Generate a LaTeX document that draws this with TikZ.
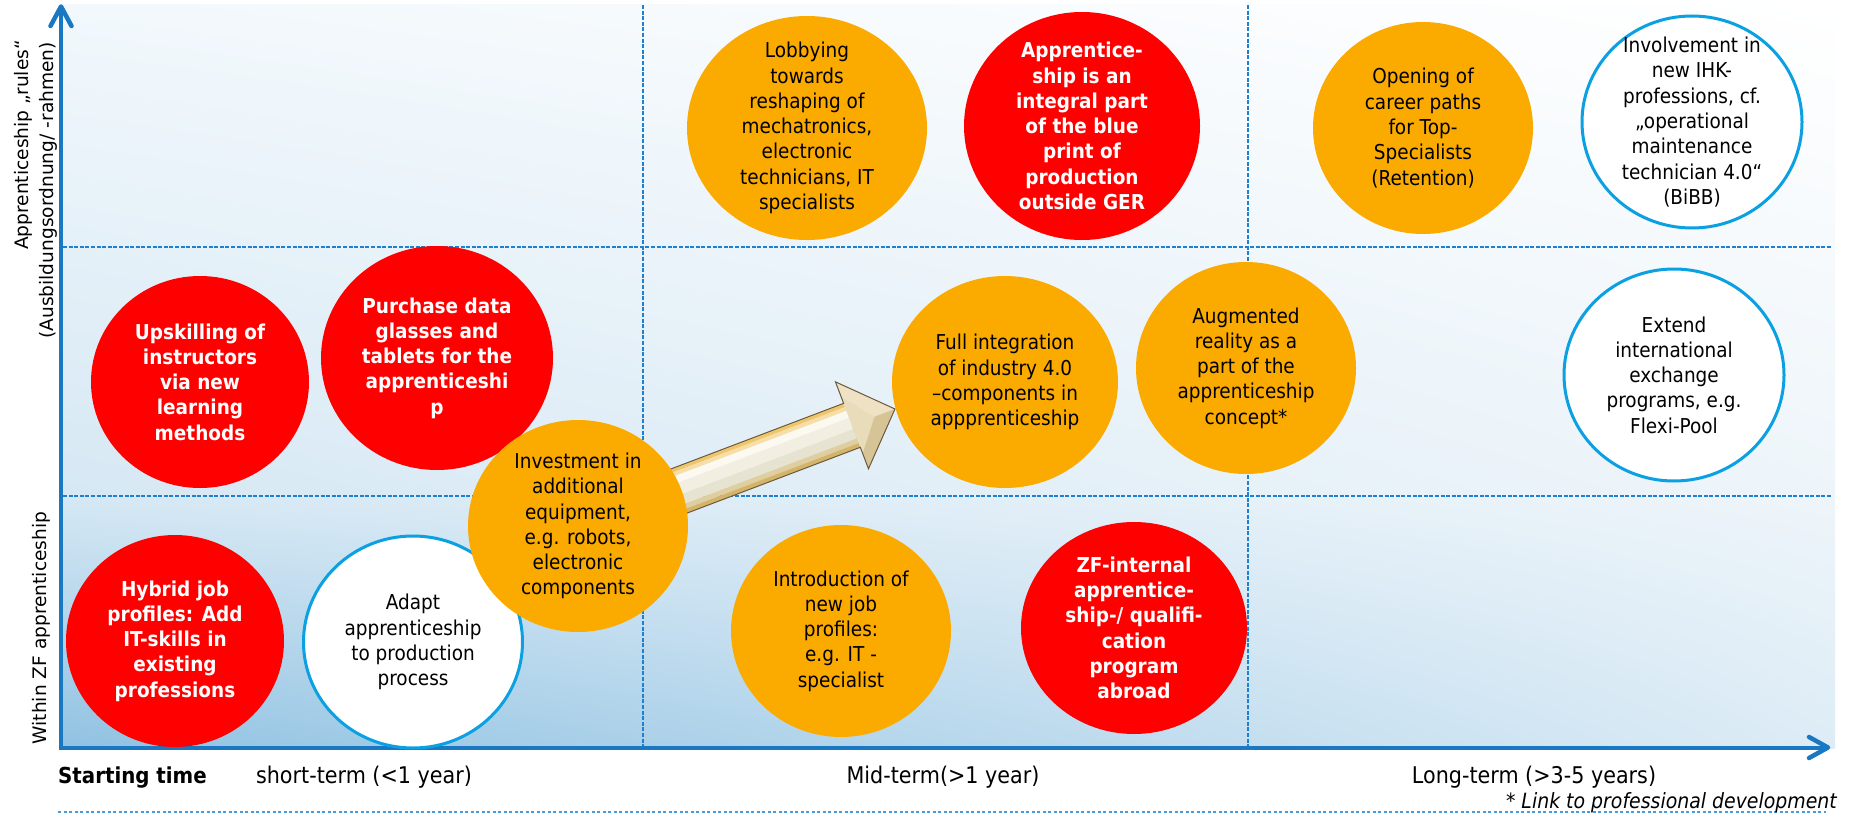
\documentclass[tikz,border=0pt]{standalone}
\usepackage{fontspec}
\usetikzlibrary{shapes.geometric,shadings}
\newfontfamily\cf[FakeStretch=0.9]{DejaVu Sans}
\newfontfamily\vf{DejaVu Sans}
\definecolor{zfred}{HTML}{FF0000}
\definecolor{zforange}{HTML}{FBAA00}
\definecolor{zfblue}{HTML}{0AA0E2}
\definecolor{axblue}{HTML}{1A78C2}
\definecolor{dashblue}{HTML}{1E80D0}
\definecolor{bgA}{HTML}{F2F8FC}
\definecolor{bgB}{HTML}{D6E8F4}
\definecolor{bgC}{HTML}{EEF5FA}
\definecolor{bgD}{HTML}{90C2E2}
\definecolor{bgE}{HTML}{DDECF6}
\definecolor{arEdge}{HTML}{6B5A3A}
\begin{document}
\begin{tikzpicture}[x=1pt,y=-1pt,
  redb/.style={ellipse, fill=zfred, inner sep=0pt},
  orb/.style={ellipse, fill=zforange, inner sep=0pt},
  whb/.style={ellipse, fill=white, draw=zfblue, line width=3pt, inner sep=0pt},
  wtxt/.style={font={\cf\bfseries\fontsize{20.5}{25.3}\selectfont}, text=white, align=center, inner sep=0pt},
  btxt/.style={font={\cf\fontsize{20.5}{25.3}\selectfont}, text=black, align=center, inner sep=0pt},
  ylab/.style={font={\vf\fontsize{18.6}{22}\selectfont}, inner sep=0pt, rotate=90},
  blab/.style={font={\cf\fontsize{23}{26}\selectfont}, inner sep=0pt, anchor=base},
  grid/.style={dashblue, line width=1.3pt, dash pattern=on 4pt off 1.6pt},
  axis/.style={axblue, line width=4.5pt}
]
\useasboundingbox (0,0) rectangle (1852,813);
% background
\shade[upper left=bgA, upper right=white, lower left=bgB, lower right=bgC] (63,5) rectangle (1835,496);
\shade[upper left=bgB, upper right=bgC, lower left=bgD, lower right=bgE] (63,496) rectangle (1835,748);
% grid lines
\draw[grid] (643,5) -- (643,748);
\draw[grid] (1248,5) -- (1248,748);
\draw[grid] (63,247) -- (1832,247);
\draw[grid] (63,496) -- (1832,496);
% bottom dotted line
\draw[dashblue!80, line width=1.5pt, dash pattern=on 3pt off 2.5pt] (58,812) -- (1826,812);
% axes
\draw[axis, line join=miter] (61,7) -- (61,748) -- (1827,748);
\draw[axis, line cap=round, line join=round] (50.5,26) -- (61,6.5) -- (71.5,26);
\draw[axis, line cap=round, line join=round] (1809,737) -- (1828,747.5) -- (1809,758);
% block arrow (local x along the arrow, local y towards its lower side)
\begin{scope}[shift={(579,529)}, rotate=20.8]
  \fill[fill={rgb,255:red,240;green,198;blue,108}] (0,-23.5) rectangle (292,-19.5);
  \fill[fill={rgb,255:red,246;green,222;blue,166}] (0,-19.5) rectangle (292,-15.5);
  \fill[fill={rgb,255:red,251;green,249;blue,240}] (0,-15.5) rectangle (292,-8);
  \fill[fill={rgb,255:red,242;green,239;blue,226}] (0,-8) rectangle (292,4);
  \fill[fill={rgb,255:red,230;green,227;blue,209}] (0,4) rectangle (292,14);
  \fill[fill={rgb,255:red,222;green,206;blue,160}] (0,14) rectangle (292,19);
  \fill[fill={rgb,255:red,212;green,180;blue,106}] (0,19) rectangle (292,23.5);
  \fill[fill={rgb,255:red,239;green,226;blue,196}] (292,-46.5) -- (338,0) -- (292,0) -- cycle;
  \fill[fill={rgb,255:red,214;green,196;blue,150}] (292,46.5) -- (338,0) -- (292,0) -- cycle;
  \fill[fill={rgb,255:red,232;green,220;blue,186}] (292,-30) -- (316,0) -- (292,30) -- cycle;
  \draw[arEdge, line width=1pt, line join=miter] (0,-23.5) -- (292,-23.5) -- (292,-46.5) -- (338,0) -- (292,46.5) -- (292,23.5) -- (0,23.5);
\end{scope}
% bubbles
\node[redb, minimum width=218pt, minimum height=212pt] (upsk) at (200,382) {};
\node[redb, minimum width=232pt, minimum height=224pt] (purch) at (437,358) {};
\node[redb, minimum width=218pt, minimum height=212pt] (hybrid) at (175,641) {};
\node[whb, minimum width=219pt, minimum height=212pt] (adapt) at (413,642) {};
\node[orb, minimum width=220pt, minimum height=212pt] (invest) at (578,526) {};
\node[orb, minimum width=240pt, minimum height=224pt] (lobby) at (807,128) {};
\node[redb, minimum width=236pt, minimum height=228pt] (appr) at (1082,126) {};
\node[orb, minimum width=226pt, minimum height=212pt] (full) at (1005,382) {};
\node[orb, minimum width=220pt, minimum height=212pt] (augm) at (1246,368) {};
\node[orb, minimum width=220pt, minimum height=212pt] (intro) at (841,631) {};
\node[redb, minimum width=226pt, minimum height=212pt] (zfint) at (1134,628) {};
\node[orb, minimum width=220pt, minimum height=212pt] (open) at (1423,128) {};
\node[whb, minimum width=220pt, minimum height=212pt] (invol) at (1692,122) {};
\node[whb, minimum width=220pt, minimum height=212pt] (extend) at (1674,375) {};
% bubble texts
\node[wtxt] (upskT) at (upsk) {Upskilling of\\instructors\\via new\\learning\\methods};
\node[wtxt] (purchT) at (purch) {Purchase data\\glasses and\\tablets for the\\apprenticeshi\\p};
\node[wtxt] (hybridT) at (hybrid) {Hybrid job\\profiles: Add\\IT-skills in\\existing\\professions};
\node[btxt] (adaptT) at (adapt) {Adapt\\apprenticeship\\to production\\process};
\node[btxt] (investT) at (invest) {Investment in\\additional\\equipment,\\e.g. robots,\\electronic\\components};
\node[btxt] (lobbyT) at (lobby) {Lobbying\\towards\\reshaping of\\mechatronics,\\electronic\\technicians, IT\\specialists};
\node[wtxt] (apprT) at (appr) {Apprentice-\\ship is an\\integral part\\of the blue\\print of\\production\\outside GER};
\node[btxt] (fullT) at (full) {Full integration\\of industry 4.0\\–components in\\appprenticeship};
\node[btxt] (augmT) at (augm) {Augmented\\reality as a\\part of the\\apprenticeship\\concept*};
\node[btxt] (introT) at (intro) {Introduction of\\new job\\profiles:\\e.g. IT -\\specialist};
\node[wtxt] (zfintT) at (zfint) {ZF-internal\\apprentice-\\ship-/ qualifi-\\cation\\program\\abroad};
\node[btxt] (openT) at (open) {Opening of\\career paths\\for Top-\\Specialists\\(Retention)};
\node[btxt] (involT) at (invol) {Involvement in\\new IHK-\\professions, cf.\\„operational\\maintenance\\technician 4.0“\\(BiBB)};
\node[btxt] (extendT) at (extend) {Extend\\international\\exchange\\programs, e.g.\\Flexi-Pool};
% axis labels
\node[ylab, anchor=base east] (yl1) at (28.5,40) {Apprenticeship „rules“};
\node[ylab, anchor=base east] (yl2) at (53,42) {(Ausbildungsordnung/ -rahmen)};
\node[ylab, anchor=base] (yl3) at (46,628) {Within ZF apprenticeship};
\node[blab, anchor=base west, font={\cf\bfseries\fontsize{22}{26}\selectfont}] (stime) at (58,783) {Starting time};
\node[blab] (short) at (364,783) {short-term (<1 year)};
\node[blab] (mid) at (943,783) {Mid-term(>1 year)};
\node[blab] (long) at (1534,783) {Long-term (>3-5 years)};
\node[font={\cf\itshape\fontsize{21}{24}\selectfont}, inner sep=0pt, anchor=base east] (foot) at (1837,808) {* Link to professional development};
\end{tikzpicture}
\end{document}
